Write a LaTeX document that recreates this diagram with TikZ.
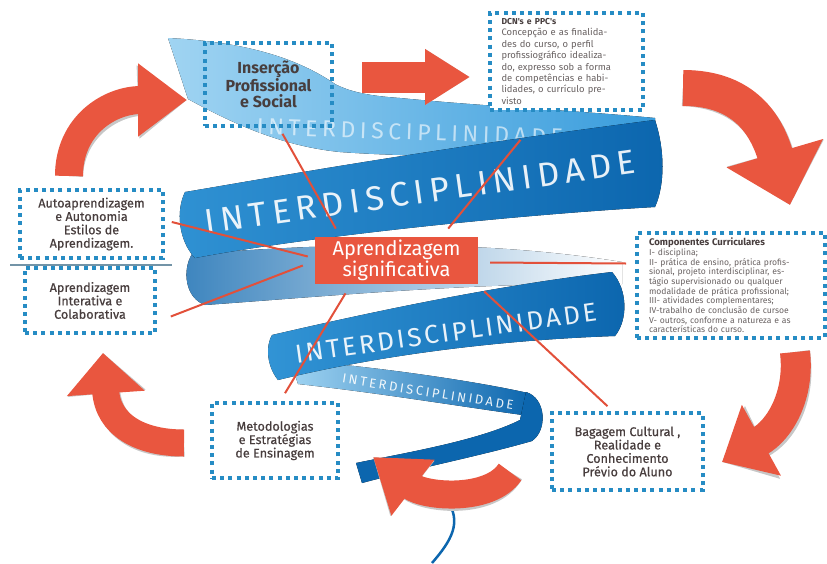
\documentclass[tikz,border=0pt]{standalone}
\usepackage{fontspec}
\setmainfont{Fira Sans}
\newfontfamily\labelfont{Fira Sans}[FakeBold=0.5]
\newfontfamily\notefont{Fira Sans}
\newfontfamily\ribbonfont{Fira Sans}
\usetikzlibrary{arrows.meta}

\definecolor{boxblue}{RGB}{38,140,196}
\definecolor{labelgray}{RGB}{72,62,62}
\definecolor{notegray}{RGB}{105,98,98}
\definecolor{redbox}{RGB}{233,86,63}
\definecolor{linered}{RGB}{226,80,58}
\definecolor{ribdark}{RGB}{12,102,174}
\definecolor{ribmid}{RGB}{56,156,220}
\definecolor{riblight}{RGB}{160,212,242}

\tikzset{%
  % boxes round the centre
  dotbox/.style = {draw=boxblue, line width=3.6pt, dash pattern=on 4pt off 4.2pt,
    fill=white, text=labelgray, align=center, inner sep=4pt,
    font=\labelfont\fontsize{12.6}{13.4}\selectfont},
  notebox/.style = {dotbox, align=left, text=notegray,
    font=\notefont\fontsize{9.4}{11.4}\selectfont},
  core/.style = {fill=redbox, text=white, align=center,
    minimum width=163pt, minimum height=45pt, font=\fontsize{20}{19}\selectfont},
  link/.style = {draw=linered, line width=2pt},
  % big red arrows: body width, tip length, tip width
  bigarrow/.style n args = {3}{draw=redbox, line width=#1,
    -{Triangle[length=0pt #2, width=0pt #3]}},
  arrowshadow/.style n args = {3}{draw=black!22, line width=#1,
    -{Triangle[length=0pt #2, width=0pt #3]}, shift={(2,3)}},
  ribtext/.style = {text=white, text opacity=0.9, font=\ribbonfont},
  sepline/.style = {draw=black!45!boxblue!60, line width=1.5pt},
}

\begin{document}
\begin{tikzpicture}[x=1pt, y=-1pt]
  \useasboundingbox (0,0) rectangle (827,563);
  % ribbon, back parts
  \fill[left color=riblight, right color=ribmid] (168,38)
    .. controls (250,42) and (300,60) .. (335,84)
    .. controls (350,92) and (370,96) .. (400,98)
    .. controls (480,106) and (570,110) .. (655,118) -- (655,165)
    .. controls (560,152) and (450,160) .. (340,152)
    .. controls (280,146) and (230,122) .. (188,99) -- cycle;
  \node[ribtext, rotate=-2, text opacity=0.6] (ribA) at (410,132)
    {\fontsize{23}{23}\selectfont\addfontfeatures{LetterSpace=20}INTERDISCIPLINIDADE};
  \fill[left color=ribdark!80, middle color=riblight, right color=white] (192,254)
    .. controls (300,246) and (460,236) .. (622,262) -- (622,284)
    .. controls (480,282) and (330,296) .. (205,305)
    .. controls (185,298) and (182,270) .. (192,254) -- cycle;
  \fill[left color=riblight, right color=ribdark] (290,360)
    .. controls (370,366) and (470,380) .. (528,393) -- (530,416)
    .. controls (470,408) and (380,393) .. (298,384) -- cycle;
  \node[ribtext, rotate=-9] (ribE) at (428,392)
    {\fontsize{13}{13}\selectfont\addfontfeatures{LetterSpace=20}INTERDISCIPLINIDADE};
  % ribbon, front parts
  \fill[left color=ribmid!80!ribdark, middle color=ribmid, right color=ribdark] (185,192)
    .. controls (240,183) and (420,150) .. (655,120)
    .. controls (665,150) and (665,185) .. (655,207)
    .. controls (500,216) and (300,238) .. (195,258)
    .. controls (178,240) and (176,210) .. (185,192) -- cycle;
  \node[ribtext, rotate=8] (ribB) at (420,192)
    {\fontsize{34}{34}\selectfont\addfontfeatures{LetterSpace=17}INTERDISCIPLINIDADE};
  \fill[left color=ribmid!85!ribdark, middle color=ribmid, right color=ribdark] (272,335)
    .. controls (380,310) and (500,285) .. (612,272)
    .. controls (628,290) and (628,320) .. (615,336)
    .. controls (500,340) and (380,355) .. (278,380)
    .. controls (266,365) and (266,345) .. (272,335) -- cycle;
  \node[ribtext, rotate=8] (ribD) at (446,333)
    {\fontsize{26}{26}\selectfont\addfontfeatures{LetterSpace=11}INTERDISCIPLINIDADE};
  \fill[left color=ribdark, middle color=ribmid, right color=ribdark] (526,392)
    .. controls (546,398) and (548,430) .. (532,441)
    .. controls (480,456) and (410,470) .. (362,483) -- (356,463)
    .. controls (410,452) and (480,440) .. (520,420) -- cycle;
  \draw[ribdark, line width=2.5pt] (447,500) .. controls (462,522) and (452,540) .. (432,563);
  % boxes
  \node[core] (cent) at (396.5,260.5) {Aprendizagem\\significativa};
  \node[dotbox, fill=none, minimum width=127pt, minimum height=83pt,
    font=\bfseries\fontsize{16}{15.8}\selectfont] (ins) at (268.5,84.5)
    {Inserção\\Profissional\\e Social};
  \node[notebox, minimum width=153pt, minimum height=97pt, text width=130pt,
    inner xsep=11.5pt] (dcn) at (566.5,61.5)
    {{\fontsize{8.6}{10}\selectfont\bfseries\color{labelgray}DCN's e PPC's}\\Concepção e as finalida-\\des do curso, o perfil\\
     profissiográfico idealiza-\\do, expresso sob a forma\\de competências e habi-\\
     lidades, o currículo pre-\\visto};
  \node[notebox, minimum width=188pt, minimum height=105pt, text width=164pt,
    inner xsep=12pt, font=\notefont\fontsize{8.6}{9.7}\selectfont] (comp) at (731,285.5)
    {{\fontsize{9.6}{11}\selectfont\bfseries\color{labelgray}Componentes Curriculares}\\
     I- disciplina;\\II- prática de ensino, prática profis-\\
     sional, projeto interdisciplinar, es-\\tágio supervisionado ou qualquer\\
     modalidade de prática profissional;\\III- atividades complementares;\\
     IV-trabalho de conclusão de cursoe\\V- outros, conforme a natureza e as\\
     características do curso.};
  \node[dotbox, minimum width=143pt, minimum height=68pt] (auto) at (91.5,224)
    {Autoaprendizagem\\e Autonomia\\Estilos de\\Aprendizagem.};
  \node[dotbox, minimum width=130pt, minimum height=65pt] (inter) at (90,300.5)
    {Aprendizagem\\Interativa e\\Colaborativa};
  \node[dotbox, minimum width=126pt, minimum height=75pt] (metod) at (275,440.5)
    {Metodologias\\e Estratégias\\de Ensinagem};
  \node[dotbox, minimum width=151pt, minimum height=77pt] (bag) at (627.5,451.5)
    {Bagagem Cultural ,\\Realidade e\\Conhecimento\\Prévio do Aluno};
  \draw[sepline] (10,265) -- (172,265);
  % lines to the centre
  \draw[link] ([xshift=21pt,yshift=8pt]cent.north west) -- ([xshift=14pt,yshift=-6pt]ins.south);
  \draw[link] ([xshift=-30pt,yshift=8pt]cent.north east) -- ([xshift=-46pt,yshift=-28pt]dcn.south);
  \draw[link] ([xshift=-7pt,yshift=4pt]cent.west) -- ([xshift=7pt,yshift=2pt]auto.east);
  \draw[link] ([xshift=-12pt,yshift=-5pt]cent.west) -- ([xshift=14pt,yshift=-16pt]inter.east);
  \draw[link] ([xshift=12pt,yshift=-2pt]cent.east) -- ([xshift=-9pt,yshift=22pt]comp.west);
  \draw[link] ([xshift=-51pt,yshift=-9pt]cent.south) -- ([xshift=10pt,yshift=8pt]metod.north);
  \draw[link] ([xshift=6pt,yshift=-7pt]cent.south east) -- ([xshift=-20pt,yshift=5pt]bag.north);
  % cycle of red arrows
  \coordinate (a1s) at (362,77);  \coordinate (a1e) at (470,77);
  \coordinate (a2s) at (683,88);  \coordinate (a2e) at (790,205);
  \coordinate (a3s) at (795,352); \coordinate (a3e) at (722,462);
  \coordinate (a4s) at (510,472); \coordinate (a4e) at (373,457);
  \coordinate (a5s) at (184,443); \coordinate (a5e) at (103,353);
  \coordinate (a6s) at (69,176);  \coordinate (a6e) at (187,100);
  \draw[arrowshadow={31pt}{1.45}{1.7}] (a1s) -- (a1e);
  \draw[bigarrow={31pt}{1.45}{1.7}] (a1s) -- (a1e);
  \draw[arrowshadow={36pt}{1.5}{2.7}] (a2s) .. controls (740,88) and (765,120) .. (a2e);
  \draw[bigarrow={36pt}{1.5}{2.7}] (a2s) .. controls (740,88) and (765,120) .. (a2e);
  \draw[arrowshadow={30pt}{1.5}{2.6}] (a3s) .. controls (800,395) and (780,430) .. (a3e);
  \draw[bigarrow={30pt}{1.5}{2.6}] (a3s) .. controls (800,395) and (780,430) .. (a3e);
  \draw[arrowshadow={28pt}{1.8}{2.4}] (a4s) .. controls (490,502) and (425,497) .. (a4e);
  \draw[bigarrow={28pt}{1.8}{2.4}] (a4s) .. controls (490,502) and (425,497) .. (a4e);
  \draw[arrowshadow={27pt}{1.5}{2.8}] (a5s) .. controls (140,443) and (108,425) .. (a5e);
  \draw[bigarrow={27pt}{1.5}{2.8}] (a5s) .. controls (140,443) and (108,425) .. (a5e);
  \draw[arrowshadow={28pt}{1.75}{2.5}] (a6s) .. controls (69,125) and (110,100) .. (a6e);
  \draw[bigarrow={28pt}{1.75}{2.5}] (a6s) .. controls (69,125) and (110,100) .. (a6e);
\end{tikzpicture}
\end{document}
